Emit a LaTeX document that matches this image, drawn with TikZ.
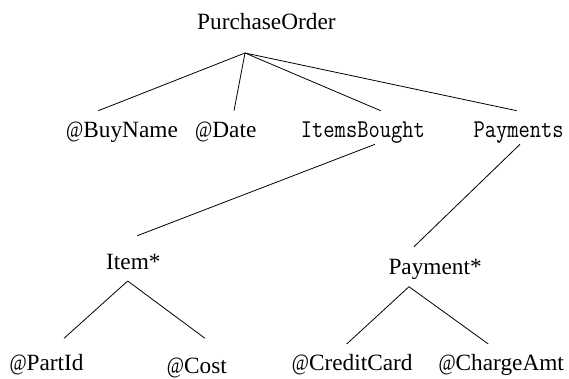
\documentclass[tikz,border=0pt]{standalone}
\usepackage{fontspec}
\setmainfont{Liberation Serif}
% narrow at-sign used by the attribute names
\newcommand\attr{\scalebox{0.8}[1]{@}}
% tall typewriter text for the container elements
\newcommand\codetext[1]{\scalebox{1}[1.17]{\ttfamily #1}}
\begin{document}
\begin{tikzpicture}[x=1pt,y=-1pt,
  lbl/.style={inner sep=0pt,anchor=base west,font=\fontsize{23.3}{26}\selectfont},
  code/.style={inner sep=0pt,anchor=base west,font=\fontsize{21.9}{25}\selectfont},
  edge/.style={draw=black,line width=0.8pt}]
\useasboundingbox (0,0) rectangle (569,378);
% root
\node[lbl] (po) at (197,29.5) {PurchaseOrder};
% first level
\node[lbl] (buy) at (66,137) {\attr BuyName};
\node[lbl] (date) at (195,137) {\attr Date};
\node[code] (items) at (300.7,137.3) {\codetext{ItemsBought}};
\node[code] (pays) at (473.3,137.3) {\codetext{Payments}};
% second level
\node[lbl] (item) at (106,269.3) {Item*};
\node[lbl] (pay) at (388.3,274.3) {Payment*};
% leaves
\node[lbl] (part) at (9.3,370) {\attr PartId};
\node[lbl] (cost) at (166.7,373) {\attr Cost};
\node[lbl] (cc) at (291.7,370) {\attr CreditCard};
\node[lbl] (amt) at (438.3,370) {\attr ChargeAmt};
% connector end points
\coordinate (po-j) at (245,53);
\coordinate (buy-t) at (98.3,110.7);
\coordinate (date-t) at (234,110.7);
\coordinate (items-t) at (380.7,110.7);
\coordinate (pays-t) at (516.7,110.7);
\coordinate (items-b) at (375,144.3);
\coordinate (item-t) at (137.3,235.7);
\coordinate (pays-b) at (520,144.3);
\coordinate (pay-t) at (414,246.7);
\coordinate (item-j) at (127.7,281);
\coordinate (part-t) at (64,338.3);
\coordinate (cost-t) at (205,338.3);
\coordinate (pay-j) at (409,286.7);
\coordinate (cc-t) at (346.7,344);
\coordinate (amt-t) at (488.3,344);
% tree edges
\draw[edge] (po-j) -- (buy-t);
\draw[edge] (po-j) -- (date-t);
\draw[edge] (po-j) -- (items-t);
\draw[edge] (po-j) -- (pays-t);
\draw[edge] (items-b) -- (item-t);
\draw[edge] (pays-b) -- (pay-t);
\draw[edge] (item-j) -- (part-t);
\draw[edge] (item-j) -- (cost-t);
\draw[edge] (pay-j) -- (cc-t);
\draw[edge] (pay-j) -- (amt-t);
\end{tikzpicture}
\end{document}
